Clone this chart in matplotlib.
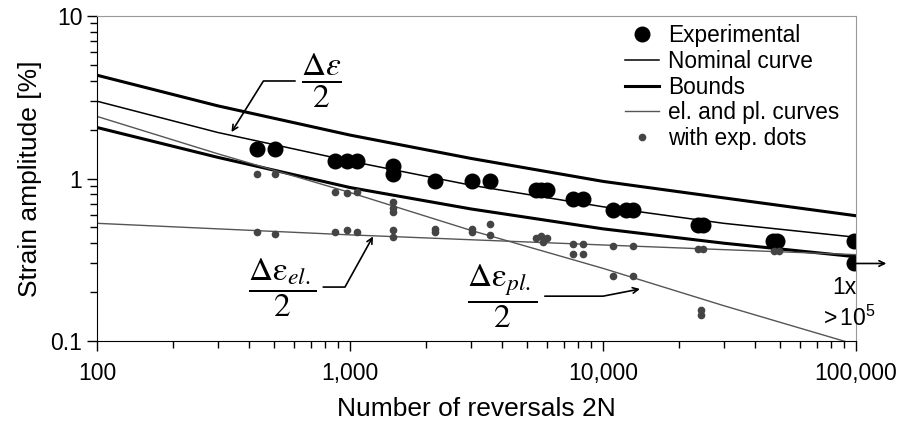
import numpy as np
import matplotlib
matplotlib.use("Agg")
import matplotlib.pyplot as plt
from matplotlib.lines import Line2D

plt.rcParams['font.family'] = ['Liberation Sans', 'DejaVu Sans']
plt.rcParams['mathtext.fontset'] = 'stix'

# curves (x = reversals 2N, y = strain amplitude %)
curve_x = [100, 300, 1000, 3000, 10000, 30000, 100000]
upper_bound = [4.32, 2.80, 1.85, 1.33, 0.96, 0.76, 0.59]
nominal = [2.99, 1.92, 1.28, 0.91, 0.67, 0.53, 0.435]
lower_bound = [2.06, 1.35, 0.88, 0.65, 0.49, 0.40, 0.33]
elastic = [0.53, 0.49, 0.45, 0.42, 0.39, 0.365, 0.34]
plastic = [2.41, 1.42, 0.82, 0.48, 0.28, 0.165, 0.095]

# experimental total strain points
exp_x = [428, 505, 873, 970, 1069, 1479, 1479, 2168, 3035, 3576,
         5435, 5700, 6008, 7630, 8360, 10990, 12300, 13140,
         23730, 24830, 46970, 48700, 98000, 98000]
exp_y = [1.52, 1.52, 1.28, 1.28, 1.28, 1.19, 1.07, 0.965, 0.965, 0.965,
         0.855, 0.855, 0.855, 0.752, 0.752, 0.637, 0.637, 0.637,
         0.52, 0.52, 0.41, 0.41, 0.41, 0.30]

# elastic / plastic parts of the experimental points
dot_x = [428, 505, 428, 505, 873, 970, 1069, 873, 970, 1069,
         1479, 1479, 1479, 1479, 1479, 2168, 2168, 3035, 3035, 3576, 3576,
         5435, 5700, 6008, 5800, 7630, 8360, 7630, 8360,
         10990, 13140, 10990, 13140, 23730, 24830, 24500, 24500,
         47500, 49500]
dot_y = [1.06, 1.07, 0.466, 0.458, 0.828, 0.816, 0.828, 0.47, 0.48, 0.47,
         0.714, 0.659, 0.62, 0.479, 0.437, 0.49, 0.47, 0.49, 0.47, 0.527, 0.451,
         0.432, 0.44, 0.432, 0.408, 0.397, 0.397, 0.344, 0.344,
         0.386, 0.386, 0.252, 0.252, 0.37, 0.37, 0.155, 0.145,
         0.36, 0.36]

xticks = [100, 1000, 10000, 100000]
xtick_labels = ["100", "1,000", "10,000", "100,000"]
yticks = [0.1, 1, 10]
ytick_labels = ["0.1", "1", "10"]

fig = plt.figure(figsize=(9, 4.32), dpi=100)
ax = fig.add_axes([0.1078, 0.2106, 0.8433, 0.7524])

ax.plot(curve_x, upper_bound, color='black', lw=2.2)
ax.plot(curve_x, lower_bound, color='black', lw=2.2)
ax.plot(curve_x, nominal, color='black', lw=1.1)
ax.plot(curve_x, elastic, color='#555555', lw=1.0)
ax.plot(curve_x, plastic, color='#555555', lw=1.0)
ax.plot(exp_x, exp_y, 'o', color='black', ms=10.5, mec='black')
ax.plot(dot_x, dot_y, 'o', color='#444444', ms=4.5, mec='#444444')

ax.set_xscale('log')
ax.set_yscale('log')
ax.set_xlim(100, 100000)
ax.set_ylim(0.1, 10)
ax.set_xticks(xticks)
ax.set_xticklabels(xtick_labels)
ax.set_yticks(yticks)
ax.set_yticklabels(ytick_labels)
ax.tick_params(which='major', direction='out', length=7, width=1, labelsize=16.5)
ax.tick_params(which='minor', direction='out', length=5, width=1)
ax.tick_params(axis='x', pad=8)
ax.spines['top'].set_color('#999999')
ax.spines['right'].set_color('#999999')

ax.set_xlabel("Number of reversals 2N", fontsize=19, labelpad=9)
ax.set_ylabel("Strain amplitude [%]", fontsize=19, labelpad=6)

# fraction labels with leaders
ax.text(0.296, 0.80, r'$\dfrac{\Delta\varepsilon}{2}$', transform=ax.transAxes,
        fontsize=24, ha='center', va='center')
ax.annotate('', xy=(340, 1.93), xycoords='data', xytext=(0.261, 0.80),
            textcoords='axes fraction',
            arrowprops=dict(arrowstyle='->', color='black', lw=1.2,
                            connectionstyle='angle,angleA=180,angleB=58,rad=0',
                            shrinkA=0, shrinkB=0))

ax.text(0.244, 0.163, r'$\dfrac{\Delta\mathrm{\varepsilon}_{el.}}{2}$', transform=ax.transAxes,
        fontsize=24, ha='center', va='center')
ax.annotate('', xy=(1233, 0.44), xycoords='data', xytext=(0.298, 0.166),
            textcoords='axes fraction',
            arrowprops=dict(arrowstyle='->', color='black', lw=1.2,
                            connectionstyle='angle,angleA=0,angleB=241,rad=0',
                            shrinkA=0, shrinkB=0))

ax.text(0.534, 0.138, r'$\dfrac{\Delta\mathrm{\varepsilon}_{pl.}}{2}$', transform=ax.transAxes,
        fontsize=24, ha='center', va='center')
ax.annotate('', xy=(14000, 0.209), xycoords='data', xytext=(0.590, 0.138),
            textcoords='axes fraction',
            arrowprops=dict(arrowstyle='->', color='black', lw=1.2,
                            connectionstyle='angle,angleA=0,angleB=191,rad=0',
                            shrinkA=0, shrinkB=0))

# run-out marker
ax.annotate('', xy=(1.04, 0.30), xycoords=('axes fraction', 'data'),
            xytext=(100000, 0.30), textcoords='data', annotation_clip=False,
            arrowprops=dict(arrowstyle='->', color='black', lw=1.2, shrinkA=0, shrinkB=0))
ax.text(0.985, 0.165, "1x", transform=ax.transAxes, fontsize=16.5, ha='center', va='center')
ax.text(0.99, 0.07, r"$\mathregular{>10^5}$", transform=ax.transAxes, fontsize=16.5,
        ha='center', va='center')

handles = [
    Line2D([], [], ls='none', marker='o', color='black', ms=10.5),
    Line2D([], [], color='black', lw=1.1),
    Line2D([], [], color='black', lw=2.2),
    Line2D([], [], color='#555555', lw=1.0),
    Line2D([], [], ls='none', marker='o', color='#444444', ms=4.5),
]
labels = ["Experimental", "Nominal curve", "Bounds", "el. and pl. curves", "with exp. dots"]
ax.legend(handles, labels, loc='upper left', bbox_to_anchor=(0.696, 0.975), frameon=False,
          fontsize=16.3, handlelength=1.5, handletextpad=0.4, labelspacing=0.12,
          borderpad=0, borderaxespad=0)

fig.savefig("out.png", dpi=100)
